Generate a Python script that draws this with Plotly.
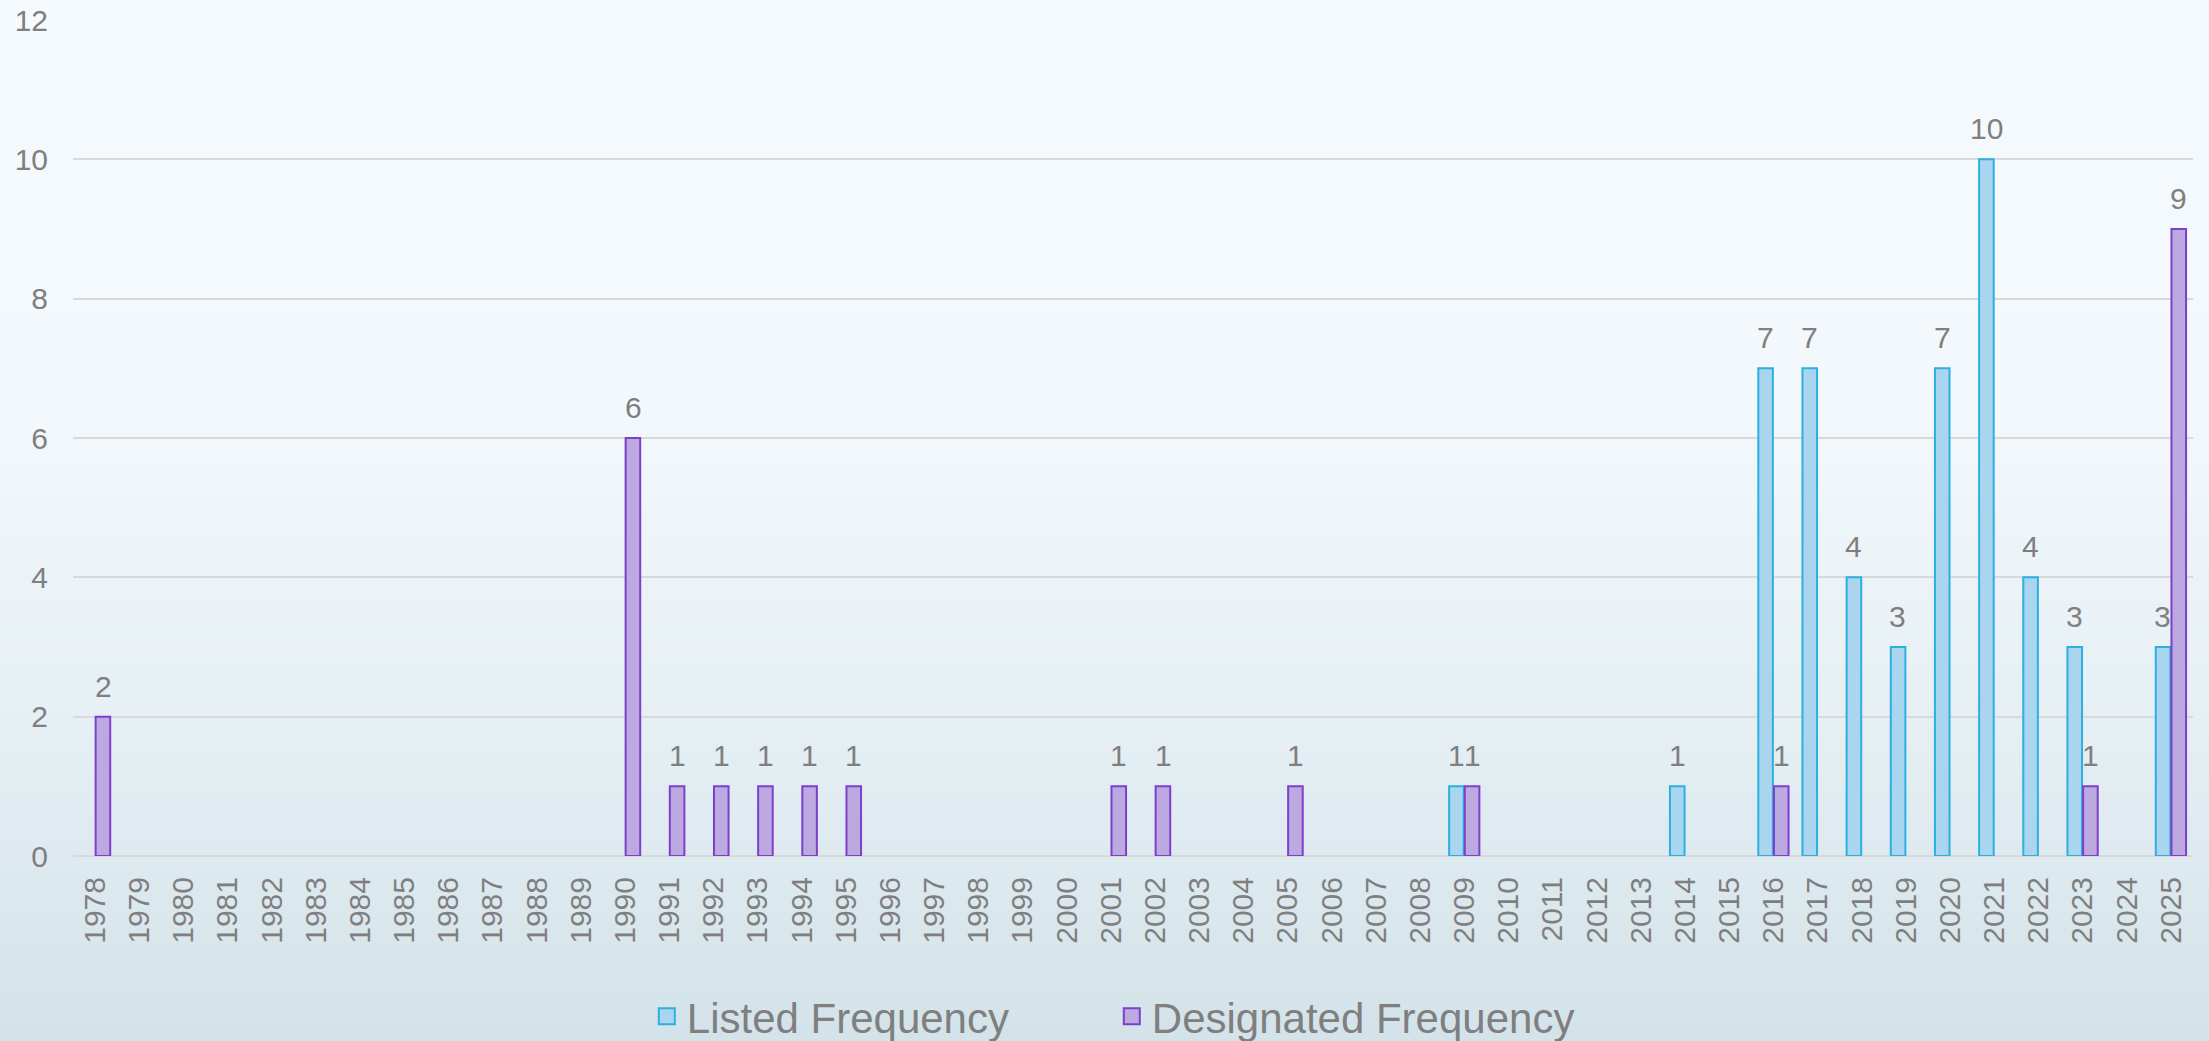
import base64, struct, zlib
import plotly.graph_objects as go

years = [str(y) for y in range(1978, 2026)]
listed_years = ["2009", "2014", "2016", "2017", "2018", "2019", "2020", "2021", "2022", "2023", "2025"]
listed_vals = [1, 1, 7, 7, 4, 3, 7, 10, 4, 3, 3]
designated_years = ["1978", "1990", "1991", "1992", "1993", "1994", "1995", "2001", "2002", "2005",
                    "2009", "2016", "2023", "2025"]
designated_vals = [2, 6, 1, 1, 1, 1, 1, 1, 1, 1, 1, 1, 1, 9]

listed = [dict(zip(listed_years, listed_vals)).get(y) for y in years]
designated = [dict(zip(designated_years, designated_vals)).get(y) for y in years]

GRAY = "#7f7f7f"
FONT = "Liberation Sans, Arial, sans-serif"
L_FILL, L_LINE = "#a9d5ee", "#2db0e1"
D_FILL, D_LINE = "#bba9e0", "#7e3fce"


def gradient_png(stops, h=256):
    rows = b""
    for i in range(h):
        t = i / (h - 1)
        for j in range(len(stops) - 1):
            t0, c0 = stops[j]
            t1, c1 = stops[j + 1]
            if t0 <= t <= t1:
                f = (t - t0) / (t1 - t0) if t1 > t0 else 0
                c = [round(c0[k] + (c1[k] - c0[k]) * f) for k in range(3)]
                break
        rows += b"\x00" + bytes(c) * 4
    def chunk(tag, data):
        return struct.pack(">I", len(data)) + tag + data + struct.pack(">I", zlib.crc32(tag + data) & 0xffffffff)
    png = b"\x89PNG\r\n\x1a\n" + chunk(b"IHDR", struct.pack(">IIBBBBB", 4, h, 8, 2, 0, 0, 0))
    png += chunk(b"IDAT", zlib.compress(rows)) + chunk(b"IEND", b"")
    return "data:image/png;base64," + base64.b64encode(png).decode()


bg = gradient_png([(0.0, (245, 250, 255)), (0.4, (243, 248, 252)),
                   (0.7, (229, 239, 244)), (1.0, (211, 227, 233))])

fig = go.Figure()
fig.add_trace(go.Bar(name="Listed Frequency", x=years, y=listed, showlegend=False,
                     marker=dict(color=L_FILL, line=dict(color=L_LINE, width=2))))
fig.add_trace(go.Bar(name="Designated Frequency", x=years, y=designated, showlegend=False,
                     marker=dict(color=D_FILL, line=dict(color=D_LINE, width=2))))
# legend entries (larger square swatches)
for name, fill, line in (("Listed Frequency", L_FILL, L_LINE), ("Designated Frequency", D_FILL, D_LINE)):
    fig.add_trace(go.Scatter(name=name, x=[None], y=[None], mode="markers", hoverinfo="skip",
                             marker=dict(symbol="square", size=16, color=fill,
                                         line=dict(color=line, width=2))))

ann = []
for series, shift in ((listed, -8), (designated, 8)):
    for i, v in enumerate(series):
        if v:
            ann.append(dict(x=i, y=v, text=str(v), showarrow=False, xshift=shift, yshift=12,
                            yanchor="bottom", font=dict(size=30, color=GRAY, family=FONT)))

fig.update_layout(
    width=2209, height=1041,
    margin=dict(l=73, r=16, t=20, b=185, autoexpand=False),
    paper_bgcolor="#e6eff4", plot_bgcolor="rgba(0,0,0,0)",
    font=dict(family=FONT, color=GRAY, size=30),
    barmode="group", bargap=0.29, bargroupgap=0.07,
    showlegend=True,
    legend=dict(orientation="h", x=0.49, xanchor="center", y=-0.192, yanchor="middle",
                font=dict(size=42, color=GRAY), bgcolor="rgba(0,0,0,0)", entrywidth=420,
                itemsizing="trace"),
    annotations=ann,
    images=[dict(source=bg, xref="paper", yref="paper", x=-73 / 2120, y=1 + 20 / 836,
                 sizex=2209 / 2120, sizey=1041 / 836, xanchor="left", yanchor="top",
                 sizing="stretch", layer="below")],
)
fig.update_xaxes(type="category", tickangle=-90, tickfont=dict(size=30, color=GRAY),
                 ticks="", showgrid=False, showline=False, ticklabelstandoff=14, automargin=False)
fig.update_yaxes(range=[0, 12], dtick=2, tickfont=dict(size=30, color=GRAY),
                 gridcolor="#d9d9d9", gridwidth=2, zeroline=True, zerolinecolor="#d9d9d9",
                 zerolinewidth=2, ticks="", ticklabelstandoff=24, showline=False, automargin=False)

fig.write_html("out.html", config={"displayModeBar": False},
               post_script="document.body.style.margin='0';document.body.style.overflow='hidden';")
